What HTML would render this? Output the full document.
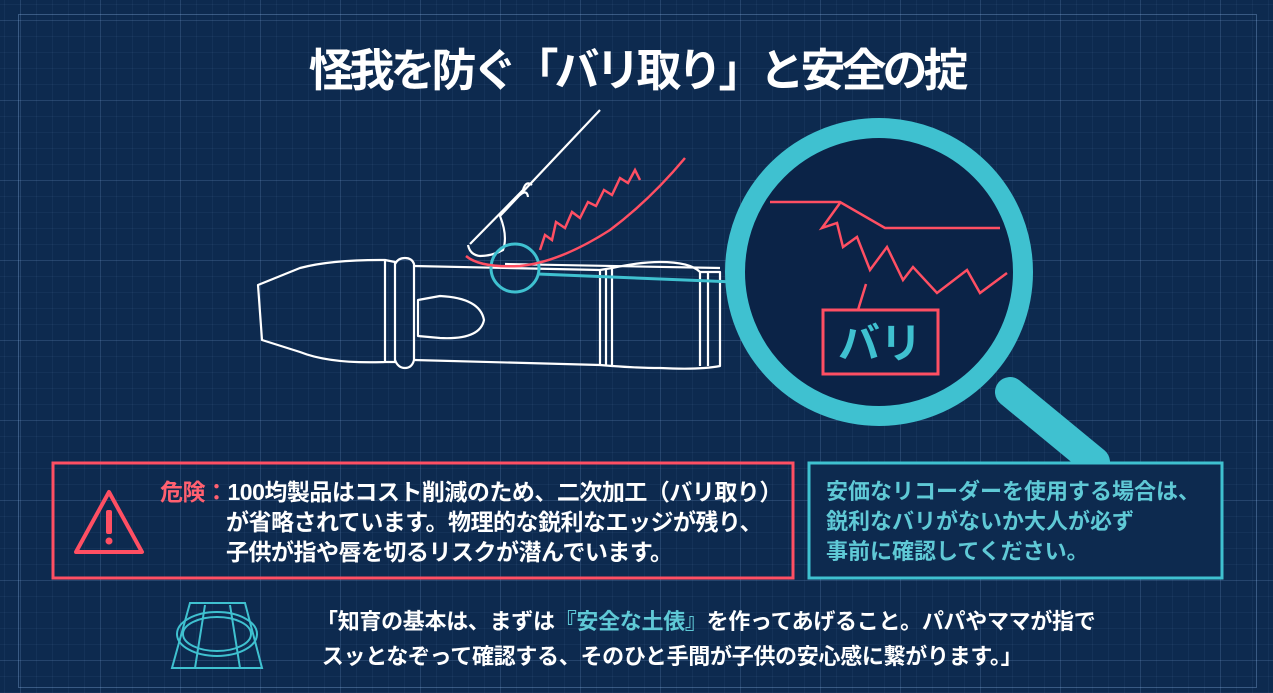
<!DOCTYPE html>
<html><head><meta charset="utf-8"><style>
body{margin:0;width:1273px;height:693px;overflow:hidden;background:#0d2a4f;font-family:"Liberation Sans","Noto Sans CJK JP",sans-serif;}
.bg{position:absolute;left:0;top:0;width:1273px;height:693px;
background-color:#0d2a4f;
background-image:linear-gradient(rgba(120,160,210,.16) 1px,transparent 1px),linear-gradient(90deg,rgba(120,160,210,.16) 1px,transparent 1px),linear-gradient(rgba(120,160,210,.07) 1px,transparent 1px),linear-gradient(90deg,rgba(120,160,210,.07) 1px,transparent 1px);
background-size:80px 80px,80px 80px,16px 16px,16px 16px;background-position:20px 20px;}
.frame{position:absolute;left:18px;top:14px;width:1237px;height:672px;border:1px solid rgba(140,180,230,.35);}
.t{position:absolute;color:#fff;white-space:nowrap;font-weight:bold;}
</style></head><body>
<div class="bg"></div><div class="frame"></div>
<div class="t" style="left:0;width:1273px;text-align:center;top:34px;font-size:45px;letter-spacing:-4px;">怪我を防ぐ「バリ取り」と安全の掟</div>
<svg width="1273" height="693" style="position:absolute;left:0;top:0">
<g fill="none" stroke="#fff" stroke-width="2.2" stroke-linejoin="round">
<path d="M258,285 L300,268 Q330,260 380,260 L385,260 L385,362 Q330,364 300,352 L262,340 Z"/>
<path d="M385,260 L395,262 L395,362 L385,362"/>
<path d="M395,264 Q398,258 405,258 Q412,258 414,264 L414,360 Q412,368 405,368 Q398,368 395,360"/>
<path d="M414,266 L600,270 L600,365 L414,360"/>
<path d="M418,300 L418,336 L440,338 Q480,340 484,320 Q480,298 440,296 Z"/>
<path d="M600,270 L612,268 L612,366 L600,365 M606,268 L606,366"/>
<path d="M612,268 Q640,262 660,262 Q690,262 700,272 L720,272 L720,366 Q700,370 660,368 Q640,368 612,366"/>
<path d="M700,272 L700,366 M708,272 L708,366"/>
<path d="M468,245 Q470,255 480,256 Q492,256 503,250 Q508,236 500,216 L600,110 M470,244 L523,190"/>
<path d="M523,190 Q526,180 532,185 M520,195 Q527,189 528,197"/>
<path d="M505,264 L720,268"/>
</g>
<g fill="none" stroke="#3fc1d0">
<circle cx="515" cy="268" r="24" stroke-width="3"/>
<path d="M538,274 L735,282" stroke-width="3"/>
<circle cx="879" cy="272" r="144" stroke-width="20" fill="#0b2347"/>
<path d="M1010,392 L1095,462" stroke-width="30" stroke-linecap="round"/>
</g>
<g fill="none" stroke="#ff4f63" stroke-width="2.5" stroke-linejoin="miter">
<path d="M466,256 Q480,268 520,266 Q560,262 610,230 Q650,200 685,158"/>
<path d="M540,250 L545,235 L552,240 L556,222 L565,228 L572,212 L580,218 L588,202 L596,206 L604,190 L612,195 L620,178 L628,183 L635,170 L640,180"/>
<path d="M770,202 L840,202 L885,228 L1000,228"/>
<path d="M840,203 L822,228 L837,223 L843,247 L857,237 L870,270 L887,247 L903,280 L913,267 L937,293 L967,270 L980,293 L1007,273"/>
<path d="M866,284 L858,310"/>
<rect x="823" y="310" width="115" height="64" stroke-width="3"/>
</g>
<text x="880" y="358" fill="#3fc1d0" font-size="42" font-weight="bold" text-anchor="middle" font-family="Liberation Sans,Noto Sans CJK JP,sans-serif">バリ</text>
<g fill="none" stroke="#ff4f63" stroke-width="3">
<rect x="53" y="463" width="740" height="115"/>
<path d="M76,552 L109,492 L142,552 Z" stroke-width="4" stroke-linejoin="round"/>
</g>
<rect x="106" y="510" width="6" height="24" rx="2" fill="#ff4f63"/><circle cx="109" cy="541" r="3.5" fill="#ff4f63"/>
<rect x="809" y="463" width="413" height="115" fill="#0d2a4f" stroke="#3fc1d0" stroke-width="3"/>
<g fill="none" stroke="#3fc1d0" stroke-width="2">
<path d="M190,603 L245,603 L262,668 L172,668 Z"/>
<ellipse cx="217" cy="634" rx="40" ry="22"/><ellipse cx="217" cy="634" rx="34" ry="17"/>
<path d="M205,605 L195,668 M230,605 L240,668"/>
</g>
</svg>
<div class="t" style="left:160px;top:477px;font-size:23px;line-height:30px;letter-spacing:-0.5px;"><span style="color:#ff6070">危険：</span>100均製品はコスト削減のため、二次加工（バリ取り）<br><span style="padding-left:66px"></span>が省略されています。物理的な鋭利なエッジが残り、<br><span style="padding-left:66px"></span>子供が指や唇を切るリスクが潜んでいます。</div>
<div class="t" style="left:826px;top:477px;font-size:22px;line-height:30px;color:#5fc9d6;">安価なリコーダーを使用する場合は、<br>鋭利なバリがないか大人が必ず<br>事前に確認してください。</div>
<div class="t" style="left:316px;top:604px;font-size:22px;line-height:35px;letter-spacing:-0.3px;">「知育の基本は、まずは<span style="color:#5fc9d6">『安全な土俵』</span>を作ってあげること。パパやママが指で<br>&nbsp;スッとなぞって確認する、そのひと手間が子供の安心感に繋がります。」</div>
</body></html>
